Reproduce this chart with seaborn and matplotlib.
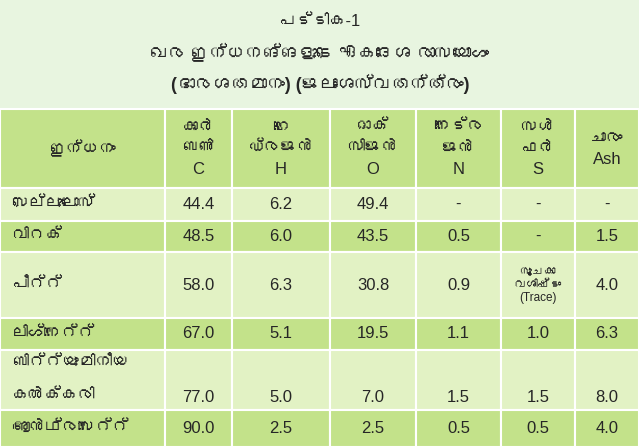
import seaborn as sns
from matplotlib import pyplot as plt
from matplotlib import font_manager
from matplotlib.patches import Rectangle
from fontTools.ttLib import TTFont

sns.set_theme(style="white")

# look for any installed family that has Malayalam glyphs
families = ['Liberation Sans']
for f in font_manager.fontManager.ttflist:
    try:
        cmap = TTFont(f.fname, fontNumber=0, lazy=True).getBestCmap()
    except Exception:
        continue
    if cmap and 0x0D2A in cmap and f.name not in families:
        families.append(f.name)
families.append('DejaVu Sans')
plt.rcParams['font.family'] = families

title1 = "പട്ടിക-1"
title2 = "ഖര ഇന്ധനങ്ങളുടെ ഏകദേശ രാസയോഗം"
title3 = "(ഭാരശതമാനം) (ജലാംശസ്വതന്ത്രം)"

headers = ["ഇന്ധനം", "കാർ\nബൺ\nC", "ഹൈ\nഡ്രജൻ\nH", "ഓക്\nസിജൻ\nO",
           "നൈട്ര\nജൻ\nN", "സൾ\nഫർ\nS", "ചാരം\nAsh"]
fuels = ["സെല്ലുലോസ്", "വിറക്", "പീറ്റ്", "ലിഗ്നൈറ്റ്", "ബിറ്റ്യുമിനീയ\n\nകൽക്കരി", "ആൻഥ്രസൈറ്റ്"]
carbon = ["44.4", "48.5", "58.0", "67.0", "77.0", "90.0"]
hydrogen = ["6.2", "6.0", "6.3", "5.1", "5.0", "2.5"]
oxygen = ["49.4", "43.5", "30.8", "19.5", "7.0", "2.5"]
nitrogen = ["-", "0.5", "0.9", "1.1", "1.5", "0.5"]
sulphur = ["-", "-", "സൂചകാ\nവശിഷ്ടം\n(Trace)", "1.0", "1.5", "0.5"]
ash = ["-", "1.5", "4.0", "6.3", "8.0", "4.0"]

col_edges = [0, 165, 232, 330, 416, 501, 575, 639]
row_edges = [109, 188, 221, 252, 318, 350, 410, 447]
light, dark, top = "#e2f2c4", "#c3e28a", "#e8f5e0"

fig = plt.figure(figsize=(6.39, 4.47), dpi=100)
ax = fig.add_axes([0, 0, 1, 1])
ax.set_xlim(0, 639)
ax.set_ylim(447, 0)
ax.axis("off")
ax.add_patch(Rectangle((0, 0), 639, 109, color=top))

ax.text(320, 22, title1, ha="center", va="center", fontsize=12)
ax.text(320, 54, title2, ha="center", va="center", fontsize=13, weight="bold")
ax.text(320, 84, title3, ha="center", va="center", fontsize=13, weight="bold")

columns = [fuels, carbon, hydrogen, oxygen, nitrogen, sulphur, ash]
for r in range(len(row_edges) - 1):
    y0, y1 = row_edges[r], row_edges[r + 1]
    fc = dark if r % 2 == 0 else light
    for c in range(len(col_edges) - 1):
        x0, x1 = col_edges[c], col_edges[c + 1]
        ax.add_patch(Rectangle((x0, y0), x1 - x0, y1 - y0, facecolor=fc,
                               edgecolor="white", linewidth=1.5))
        if r == 0:
            txt, fs = headers[c], 12
        else:
            txt = columns[c][r - 1]
            fs = 8.5 if "\n" in txt and c == 5 else 12
        if c == 0 and r > 0:
            ax.text(x0 + 12, (y0 + y1) / 2, txt, ha="left", va="center",
                    fontsize=fs, linespacing=1.1)
        elif r == 5 and c > 0:
            ax.text((x0 + x1) / 2, y1 - 13, txt, ha="center", va="center", fontsize=fs)
        else:
            ax.text((x0 + x1) / 2, (y0 + y1) / 2, txt, ha="center", va="center",
                    fontsize=fs, linespacing=1.5 if r == 0 else 1.1)

fig.savefig("out.png", dpi=100)
